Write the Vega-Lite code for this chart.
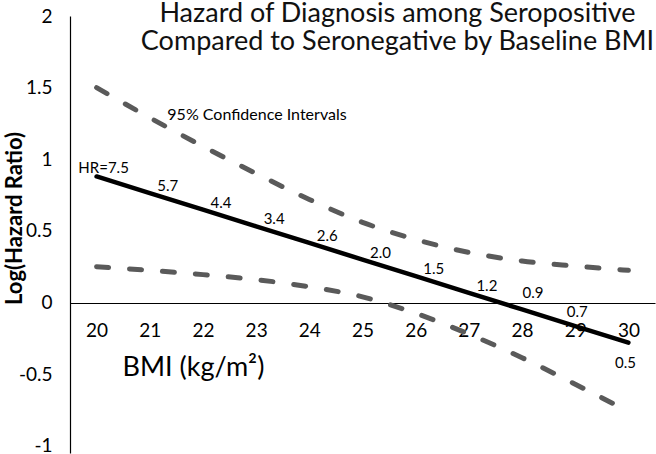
{
  "$schema": "https://vega.github.io/schema/vega-lite/v6.json",
  "width": 585,
  "height": 437,
  "autosize": {"type": "none"},
  "padding": {"left": 70, "top": 16, "right": 1, "bottom": 1},
  "background": "white",
  "config": {
    "view": {"stroke": null},
    "font": "Lato",
    "axis": {"labelFont": "Lato", "titleFont": "Lato"}
  },
  "title": {
    "text": ["Hazard of Diagnosis among Seropositive", "Compared to Seronegative by Baseline BMI"],
    "fontSize": 27,
    "fontWeight": "normal",
    "color": "#111111",
    "anchor": "middle",
    "frame": "group",
    "baseline": "top",
    "dx": 35,
    "dy": 49,
    "offset": 0,
    "lineHeight": 28.5
  },
  "datasets": {
    "curves": [
      {"bmi": 20, "series": "Estimate", "value": 0.88, "hr": "HR=7.5"},
      {"bmi": 21, "series": "Estimate", "value": 0.764, "hr": "5.7"},
      {"bmi": 22, "series": "Estimate", "value": 0.648, "hr": "4.4"},
      {"bmi": 23, "series": "Estimate", "value": 0.532, "hr": "3.4"},
      {"bmi": 24, "series": "Estimate", "value": 0.416, "hr": "2.6"},
      {"bmi": 25, "series": "Estimate", "value": 0.30, "hr": "2.0"},
      {"bmi": 26, "series": "Estimate", "value": 0.184, "hr": "1.5"},
      {"bmi": 27, "series": "Estimate", "value": 0.068, "hr": "1.2"},
      {"bmi": 28, "series": "Estimate", "value": -0.048, "hr": "0.9"},
      {"bmi": 29, "series": "Estimate", "value": -0.164, "hr": "0.7"},
      {"bmi": 30, "series": "Estimate", "value": -0.28, "hr": "0.5"},
      {"bmi": 20, "series": "Upper", "value": 1.50},
      {"bmi": 21, "series": "Upper", "value": 1.29},
      {"bmi": 22, "series": "Upper", "value": 1.09},
      {"bmi": 23, "series": "Upper", "value": 0.90},
      {"bmi": 24, "series": "Upper", "value": 0.72},
      {"bmi": 25, "series": "Upper", "value": 0.56},
      {"bmi": 26, "series": "Upper", "value": 0.44},
      {"bmi": 27, "series": "Upper", "value": 0.35},
      {"bmi": 28, "series": "Upper", "value": 0.29},
      {"bmi": 29, "series": "Upper", "value": 0.255},
      {"bmi": 30, "series": "Upper", "value": 0.225},
      {"bmi": 20, "series": "Lower", "value": 0.25},
      {"bmi": 21, "series": "Lower", "value": 0.225},
      {"bmi": 22, "series": "Lower", "value": 0.195},
      {"bmi": 23, "series": "Lower", "value": 0.16},
      {"bmi": 24, "series": "Lower", "value": 0.11},
      {"bmi": 25, "series": "Lower", "value": 0.04},
      {"bmi": 26, "series": "Lower", "value": -0.075},
      {"bmi": 27, "series": "Lower", "value": -0.22},
      {"bmi": 28, "series": "Lower", "value": -0.385},
      {"bmi": 29, "series": "Lower", "value": -0.57},
      {"bmi": 30, "series": "Lower", "value": -0.76}
    ],
    "notes": [
      {"bmi": 21.33, "value": 1.31, "note": "95% Confidence Intervals"}
    ]
  },
  "data": {"name": "curves"},
  "encoding": {
    "x": {
      "field": "bmi",
      "type": "quantitative",
      "scale": {"domain": [19.5, 30.5], "nice": false, "zero": false},
      "axis": {
        "values": [20, 21, 22, 23, 24, 25, 26, 27, 28, 29, 30],
        "grid": false,
        "ticks": false,
        "offset": -150,
        "domainColor": "#000000",
        "domainWidth": 1.2,
        "labelFontSize": 19,
        "labelColor": "#000000",
        "labelPadding": 18,
        "title": "BMI (kg/m²)",
        "titleFontSize": 27,
        "titleFontWeight": "normal",
        "titleColor": "#000000",
        "titleAlign": "left",
        "titleAnchor": "start",
        "titleBaseline": "middle",
        "titleX": 52,
        "titleY": 64
      }
    },
    "y": {
      "field": "value",
      "type": "quantitative",
      "scale": {"domain": [-1.05, 2], "nice": false, "zero": false},
      "axis": {
        "values": [-1, -0.5, 0, 0.5, 1, 1.5, 2],
        "labelExpr": "datum.value + ''",
        "grid": false,
        "ticks": false,
        "domainColor": "#000000",
        "domainWidth": 1.2,
        "labelFontSize": 19,
        "labelColor": "#000000",
        "labelPadding": 18,
        "title": "Log(Hazard Ratio)",
        "titleFontSize": 22,
        "titleFontWeight": "bold",
        "titleColor": "#000000",
        "titleAngle": 270,
        "titleAlign": "center",
        "titleBaseline": "middle",
        "titleX": -56,
        "titleY": 202
      }
    }
  },
  "layer": [
    {
      "transform": [{"filter": "datum.series != 'Estimate'"}],
      "mark": {"type": "line", "color": "#5a5a5a", "strokeWidth": 5, "strokeDash": [12, 21], "strokeCap": "round", "interpolate": "monotone"},
      "encoding": {"detail": {"field": "series"}}
    },
    {
      "transform": [{"filter": "datum.series == 'Estimate'"}],
      "mark": {"type": "line", "color": "#000000", "strokeWidth": 4.5, "strokeCap": "round"}
    },
    {
      "transform": [{"filter": "datum.series == 'Estimate' && datum.bmi == 20"}],
      "mark": {"type": "text", "fontSize": 15, "color": "#000000", "align": "center", "baseline": "middle", "dx": 7, "dy": -8},
      "encoding": {"text": {"field": "hr"}}
    },
    {
      "transform": [{"filter": "datum.series == 'Estimate' && datum.bmi >= 21 && datum.bmi <= 27"}],
      "mark": {"type": "text", "fontSize": 15, "color": "#000000", "align": "center", "baseline": "middle", "dx": 18, "dy": -7},
      "encoding": {"text": {"field": "hr"}}
    },
    {
      "transform": [{"filter": "datum.series == 'Estimate' && datum.bmi == 28"}],
      "mark": {"type": "text", "fontSize": 15, "color": "#000000", "align": "center", "baseline": "middle", "dx": 11, "dy": -16},
      "encoding": {"text": {"field": "hr"}}
    },
    {
      "transform": [{"filter": "datum.series == 'Estimate' && datum.bmi == 29"}],
      "mark": {"type": "text", "fontSize": 15, "color": "#000000", "align": "center", "baseline": "middle", "dx": 2, "dy": -14},
      "encoding": {"text": {"field": "hr"}}
    },
    {
      "transform": [{"filter": "datum.series == 'Estimate' && datum.bmi == 30"}],
      "mark": {"type": "text", "fontSize": 15, "color": "#000000", "align": "center", "baseline": "middle", "dx": -3, "dy": 20},
      "encoding": {"text": {"field": "hr"}}
    },
    {
      "data": {"name": "notes"},
      "mark": {"type": "text", "fontSize": 16, "color": "#000000", "align": "left", "baseline": "middle"},
      "encoding": {"text": {"field": "note"}}
    }
  ]
}
